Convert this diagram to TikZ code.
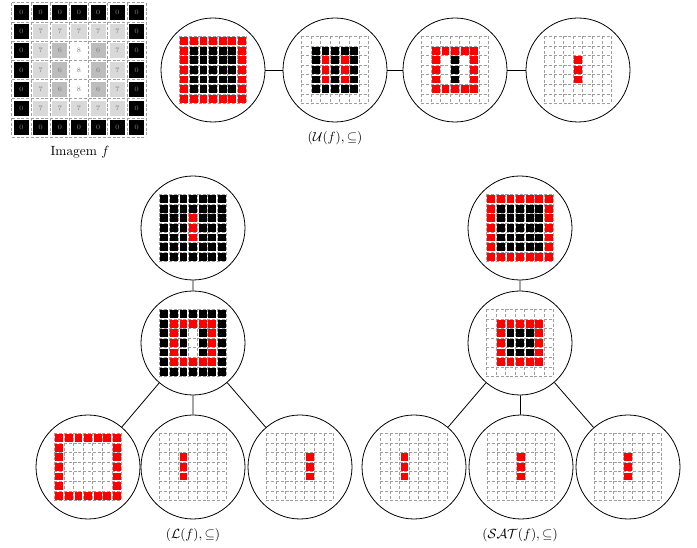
\documentclass[tikz,border=0pt]{standalone}
\usepackage{amsmath,amssymb}
\usetikzlibrary{positioning}
\definecolor{val0}{gray}{0}
\definecolor{val6}{gray}{.74}
\definecolor{val7}{gray}{.85}
\definecolor{val8}{gray}{1}
\definecolor{setred}{HTML}{FF0000}
\definecolor{gridgray}{gray}{.62}
\newcommand{\cellw}{9.6}
\newcommand{\cellgap}{.9}
\tikzset{region/.style={circle,draw=black,line width=.6pt,minimum size=78pt,inner sep=0pt},
 cellline/.style={draw=gridgray,dash pattern=on 2.2pt off 1.4pt,line width=.5pt},
 link/.style={draw=black,line width=.6pt},
 value/.style={font=\tiny,text=gray,inner sep=0pt},
 caption/.style={text=black,font=\normalsize}}
% fill cells c1/r1/c2/r2 of a 7x7 grid
\newcommand{\paint}[2]{%
 \foreach \ca/\ra/\cb/\rb in {#2}{
  \foreach \px in {\ca,...,\cb}{\foreach \py in {\ra,...,\rb}{
   \fill[#1] (\px*\cellw-3.5*\cellw+\cellgap,\py*\cellw-3.5*\cellw+\cellgap)
    rectangle ++(\cellw-2*\cellgap,\cellw-2*\cellgap);}}}}
% grid inside a circle: node, black cells, red cells
\newcommand{\pixgrid}[3]{%
 \begin{scope}[shift={(#1.center)}]
  \foreach \k in {0,...,7}{
   \draw[cellline] (\k*\cellw-3.5*\cellw,-3.5*\cellw) -- ++(0,7*\cellw);
   \draw[cellline] (-3.5*\cellw,\k*\cellw-3.5*\cellw) -- ++(7*\cellw,0);}
  \paint{black}{#2}
  \paint{setred}{#3}
 \end{scope}}
\begin{document}
\begin{tikzpicture}[x=.75pt,y=-.75pt]
 \useasboundingbox (0,0) rectangle (697,548);
 % input image
 \begin{scope}[shift={(79,70)}]
  \foreach \k in {0,...,7}{
   \draw[cellline] (\k*19.2-67.2,-67.2) -- ++(0,134.4);
   \draw[cellline] (-67.2,\k*19.2-67.2) -- ++(134.4,0);}
  \foreach \vals [count=\py from 0] in {{0,0,0,0,0,0,0},{0,7,7,7,7,7,0},{0,7,6,8,6,7,0},
   {0,7,6,8,6,7,0},{0,7,6,8,6,7,0},{0,7,7,7,7,7,0},{0,0,0,0,0,0,0}}{
   \foreach \v [count=\px from 0] in \vals{
    \fill[val\v] (\px*19.2-65.2,\py*19.2-65.2) rectangle ++(15.2,15.2);
    \node[value] (f\px\py) at (\px*19.2-57.6,\py*19.2-57.6) {\v};}}
 \end{scope}
 \node[caption] (imgcap) at (80,152) {Imagem $f$};
 % upper sets
 \node[region] (u0) at (213,70) {};
 \node[region] (u6) at (335,70) {};
 \node[region] (u7) at (455,70) {};
 \node[region] (u8) at (578,70) {};
 \draw[link] (u0)--(u6) (u6)--(u7) (u7)--(u8);
 \pixgrid{u0}{1/1/5/5}{0/0/6/0,0/6/6/6,0/1/0/5,6/1/6/5}
 \pixgrid{u6}{1/1/5/5}{2/2/2/4,4/2/4/4}
 \pixgrid{u7}{3/2/3/4}{1/1/5/1,1/5/5/5,1/2/1/4,5/2/5/4}
 \pixgrid{u8}{}{3/2/3/4}
 \node[caption] (ucap) at (335,138) {$(\mathcal{U}(f),\subseteq)$};
 % lower sets
 \node[region] (l8) at (193,228) {};
 \node[region] (l7) at (193,343) {};
 \node[region] (l0) at (88,467) {};
 \node[region] (l6a) at (193,467) {};
 \node[region] (l6b) at (300,467) {};
 \draw[link] (l8)--(l7) (l7)--(l0) (l7)--(l6a) (l7)--(l6b);
 \pixgrid{l8}{0/0/6/6}{3/2/3/4}
 \pixgrid{l7}{0/0/6/1,0/5/6/6,0/2/2/4,4/2/6/4}{1/1/5/1,1/5/5/5,1/2/1/4,5/2/5/4}
 \pixgrid{l0}{}{0/0/6/0,0/6/6/6,0/1/0/5,6/1/6/5}
 \pixgrid{l6a}{}{2/2/2/4}
 \pixgrid{l6b}{}{4/2/4/4}
 \node[caption] (lcap) at (193,535) {$(\mathcal{L}(f),\subseteq)$};
 % shapes
 \node[region] (s0) at (520,228) {};
 \node[region] (s7) at (520,343) {};
 \node[region] (s6a) at (414,467) {};
 \node[region] (s8) at (521,467) {};
 \node[region] (s6b) at (628,467) {};
 \draw[link] (s0)--(s7) (s7)--(s6a) (s7)--(s8) (s7)--(s6b);
 \pixgrid{s0}{1/1/5/5}{0/0/6/0,0/6/6/6,0/1/0/5,6/1/6/5}
 \pixgrid{s7}{2/2/4/4}{1/1/5/1,1/5/5/5,1/2/1/4,5/2/5/4}
 \pixgrid{s6a}{}{2/2/2/4}
 \pixgrid{s8}{}{3/2/3/4}
 \pixgrid{s6b}{}{3/2/3/4}
 \node[caption] (scap) at (520,535) {$(\mathcal{SAT}(f),\subseteq)$};
\end{tikzpicture}
\end{document}
